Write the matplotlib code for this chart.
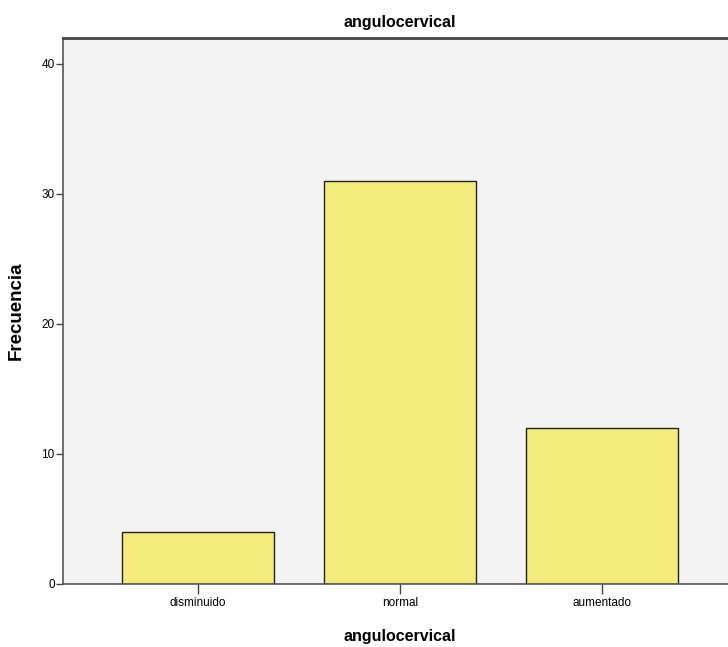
import numpy as np
import matplotlib
matplotlib.use("Agg")
import matplotlib.pyplot as plt

plt.rcParams['font.family'] = ['Liberation Sans', 'DejaVu Sans']

# data
categorias = ['disminuido', 'normal', 'aumentado']
frecuencias = [4, 31, 12]
yticks = [0, 10, 20, 30, 40]

fig = plt.figure(figsize=(7.28, 6.47), dpi=100)
# axes runs off the right edge like the cropped original
ax = fig.add_axes([63 / 728, 1 - 583.5 / 647, (737 - 63) / 728, (583.5 - 38) / 647])
ax.set_facecolor('#f3f3f3')

x = np.arange(len(categorias))
ax.bar(x, frecuencias, width=0.752, color='#f3eb7c', edgecolor='#222222', linewidth=1.0, zorder=2)

ax.set_xlim(-0.668, 2.668)
ax.set_ylim(0, 42)
ax.set_xticks(x)
ax.set_xticklabels(categorias, fontsize=8.5)
ax.set_yticks(yticks)
ax.set_yticklabels([str(v) for v in yticks], fontsize=8.5)
ax.tick_params(axis='y', direction='out', length=5, width=1, color='#444444', pad=1)
ax.tick_params(axis='x', direction='out', length=7, width=1, color='#444444', pad=3)

for s in ['left', 'bottom']:
    ax.spines[s].set_color('#555555')
    ax.spines[s].set_linewidth(1.2)
ax.spines['top'].set_color('#444444')
ax.spines['top'].set_linewidth(2.0)
ax.spines['right'].set_visible(False)

ax.set_title('angulocervical', fontsize=11.5, fontweight='bold', pad=8)
ax.set_xlabel('angulocervical', fontsize=11.5, fontweight='bold', labelpad=14)
ax.set_ylabel('Frecuencia', fontsize=13.5, fontweight='bold')
ax.yaxis.set_label_coords(-0.057, 0.5)

fig.savefig('out.png', dpi=100)
